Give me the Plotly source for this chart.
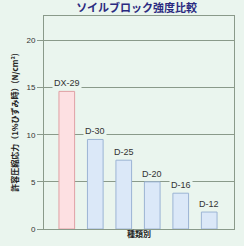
import plotly.graph_objects as go

categories = ["DX-29", "D-30", "D-25", "D-20", "D-16", "D-12"]
values = [14.6, 9.5, 7.3, 5.0, 3.8, 1.8]
yticks = [0, 5, 10, 15, 20]

fills = ["#fde0e2"] + ["#dbe8f8"] * 5
lines = ["#e0a0a4"] + ["#9cb4d4"] * 5
BG = "#eaf5ee"

fig = go.Figure()
fig.add_trace(go.Bar(
    x=list(range(len(categories))), y=values,
    width=0.55,
    marker=dict(color=fills, line=dict(color=lines, width=1)),
    hoverinfo="skip",
))
# labels with background to interrupt gridlines
for i, (c, v) in enumerate(zip(categories, values)):
    fig.add_annotation(x=i, y=v, text=c, showarrow=False, yanchor="bottom",
                       yshift=1, bgcolor=BG, borderpad=1,
                       font=dict(family="Liberation Sans", size=9, color="#333"))

fig.update_layout(
    width=244, height=246,
    margin=dict(l=44, r=9, t=16, b=14),
    paper_bgcolor=BG, plot_bgcolor=BG,
    showlegend=False,
    title=dict(text="<b>ソイルブロック強度比較</b>", x=0.56, xanchor="center", y=0.965, yanchor="middle",
               font=dict(family="Noto Sans CJK JP", size=11, color="#2a2a80")),
    xaxis=dict(range=[-0.8, 5.87], showticklabels=False, ticks="", showgrid=False,
               showline=True, linecolor="#8a9a8a", mirror=True, zeroline=False,
               title=dict(text="<b>種類別</b>", standoff=2,
                          font=dict(family="Noto Sans CJK JP", size=8, color="#222"))),
    yaxis=dict(range=[0, 22.6], tickvals=yticks, ticks="outside", ticklen=6,
               tickcolor="#8a9a8a", showgrid=True, gridcolor="#8a9a8a", gridwidth=1,
               showline=True, linecolor="#8a9a8a", mirror=True, zeroline=False,
               tickfont=dict(family="Liberation Sans", size=8, color="#333"),
               title=dict(text="<b>許容圧縮応力（1%ひずみ時）(N/cm²)</b>", standoff=6,
                          font=dict(family="Noto Sans CJK JP", size=8, color="#222"))),
)
fig.write_html("out.html")
